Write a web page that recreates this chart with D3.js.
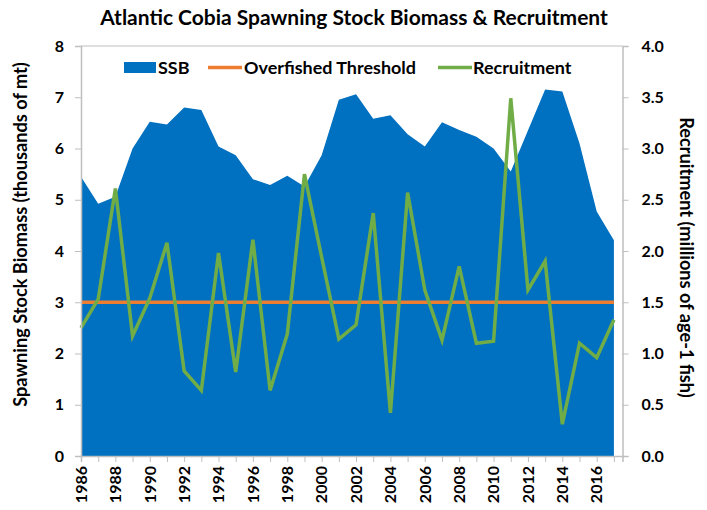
<!DOCTYPE html>
<html>
<head>
<meta charset="utf-8">
<script src="https://cdn.jsdelivr.net/npm/d3@7"></script>
<style>
  body { margin: 0; background: #fff; }
  svg { font-family: Lato, "Open Sans", sans-serif; font-weight: bold; }
</style>
</head>
<body>
<div id="chart"></div>
<script>
// data
var years = d3.range(1986, 2018);
var ssb = [5.45, 4.92, 5.06, 6.0, 6.52, 6.47, 6.8, 6.75, 6.04, 5.87,
           5.40, 5.29, 5.47, 5.26, 5.87, 6.95, 7.06, 6.58, 6.65, 6.28,
           6.04, 6.51, 6.36, 6.23, 6.0, 5.55, 6.35, 7.15, 7.11, 6.1,
           4.77, 4.21];
var recruitment = [1.25, 1.53, 2.61, 1.17, 1.54, 2.08, 0.83, 0.64, 1.98, 0.82,
                   2.11, 0.64, 1.19, 2.75, 1.94, 1.14, 1.28, 2.37, 0.42, 2.57,
                   1.62, 1.13, 1.85, 1.10, 1.12, 3.49, 1.62, 1.90, 0.31, 1.10,
                   0.96, 1.33];
var threshold = 3.0;
var leftTicks = [0, 1, 2, 3, 4, 5, 6, 7, 8];
var rightTicks = [0, 0.5, 1, 1.5, 2, 2.5, 3, 3.5, 4];
var yearLabels = d3.range(1986, 2018, 2);

var width = 707, height = 510;
var margin = {top: 46, right: 85, bottom: 54, left: 81};

var svg = d3.select("#chart").append("svg")
    .attr("width", width)
    .attr("height", height);

var x = d3.scaleLinear().domain([1986, 2017.5]).range([margin.left, width - margin.right + 0.5]);
var yL = d3.scaleLinear().domain([0, 8]).range([height - margin.bottom, margin.top]);
var yR = d3.scaleLinear().domain([0, 4]).range([height - margin.bottom, margin.top]);

var colSSB = "#0070C0", colThr = "#ED7D31", colRec = "#70AD47", grid = "#BFBFBF";

// scale a text's font so it spans roughly the width seen in the picture
function fit(sel, target) {
  var fs = parseFloat(sel.style("font-size"));
  var w = sel.node().getComputedTextLength();
  sel.style("font-size", (fs * target / w) + "px");
  return fs * target / w;
}

// top grid line
svg.append("line")
    .attr("x1", x.range()[0]).attr("x2", x.range()[1])
    .attr("y1", yL(8)).attr("y2", yL(8))
    .attr("stroke", grid).attr("stroke-width", 1);

// SSB area
var area = d3.area()
    .x(function(d, i) { return x(years[i]); })
    .y0(yL(0))
    .y1(function(d) { return yL(d); });

svg.append("path")
    .datum(ssb)
    .attr("d", area)
    .attr("fill", colSSB);

// overfished threshold
svg.append("line")
    .attr("x1", x(1986)).attr("x2", x(2017))
    .attr("y1", yL(threshold)).attr("y2", yL(threshold))
    .attr("stroke", colThr).attr("stroke-width", 3.5);

// recruitment line
var line = d3.line()
    .x(function(d, i) { return x(years[i]); })
    .y(function(d) { return yR(d); });

svg.append("path")
    .datum(recruitment)
    .attr("d", line)
    .attr("fill", "none")
    .attr("stroke", colRec)
    .attr("stroke-width", 3.5);

// axes
var leftAxis = d3.axisLeft(yL).tickValues(leftTicks).tickSize(6).tickPadding(11).tickFormat(d3.format("d"));
var gL = svg.append("g").attr("transform", "translate(" + margin.left + ",0)").call(leftAxis);

var rightAxis = d3.axisRight(yR).tickValues(rightTicks).tickSize(6).tickPadding(13).tickFormat(d3.format(".1f"));
var gR = svg.append("g").attr("transform", "translate(" + x.range()[1] + ",0)").call(rightAxis);

var bottomAxis = d3.axisBottom(x).tickValues(years).tickSize(6).tickFormat("");
var gB = svg.append("g").attr("transform", "translate(0," + yL(0) + ")").call(bottomAxis);

[gL, gR, gB].forEach(function(g) {
  g.select(".domain").attr("stroke", grid).attr("stroke-width", 1.5);
  g.selectAll(".tick line").attr("stroke", grid);
  g.selectAll("text").attr("fill", "#000").style("font-size", "16px").style("font-family", "Lato").style("font-weight", "bold");
});

// year labels, rotated
svg.append("g").selectAll("text")
    .data(yearLabels)
    .enter().append("text")
    .attr("transform", function(d) { return "translate(" + x(d) + "," + (yL(0) + 10) + ") rotate(-90)"; })
    .attr("text-anchor", "end")
    .attr("dy", "0.36em")
    .style("font-size", "16px")
    .text(function(d) { return d; });

// titles
var title = svg.append("text")
    .attr("x", 354).attr("y", 25)
    .attr("text-anchor", "middle")
    .style("font-size", "18px")
    .text("Atlantic Cobia Spawning Stock Biomass & Recruitment");
fit(title, 508);

var leftTitle = svg.append("text")
    .attr("transform", "translate(27,234.5) rotate(-90)")
    .attr("text-anchor", "middle")
    .style("font-size", "16px")
    .text("Spawning Stock Biomass (thousands of mt)");
fit(leftTitle, 345);

var rightTitle = svg.append("text")
    .attr("transform", "translate(680,257.5) rotate(90)")
    .attr("text-anchor", "middle")
    .style("font-size", "16px")
    .text("Recruitment (millions of age-1 fish)");
fit(rightTitle, 281);

// legend
var lg = svg.append("g").style("font-size", "16px");
lg.append("rect").attr("x", 124).attr("y", 62).attr("width", 32).attr("height", 11).attr("fill", colSSB);
lg.append("line").attr("x1", 208).attr("x2", 242).attr("y1", 67.5).attr("y2", 67.5).attr("stroke", colThr).attr("stroke-width", 3.5);
lg.append("line").attr("x1", 438).attr("x2", 472).attr("y1", 67.5).attr("y2", 67.5).attr("stroke", colRec).attr("stroke-width", 3.5);
lg.append("text").attr("x", 158).attr("y", 74).text("SSB");
var thrLabel = lg.append("text").attr("x", 244).attr("y", 74).text("Overfished Threshold");
lg.append("text").attr("x", 473).attr("y", 74).text("Recruitment");
lg.style("font-size", fit(thrLabel, 172) + "px");
thrLabel.style("font-size", null);
</script>
</body>
</html>
